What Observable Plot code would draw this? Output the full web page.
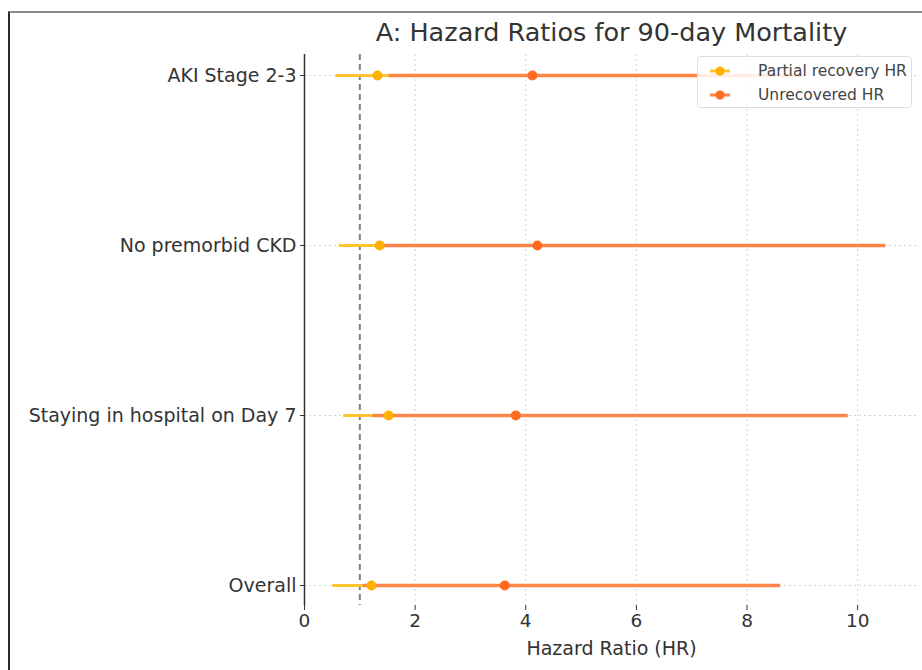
<!DOCTYPE html>
<html>
<head>
<meta charset="utf-8">
<script src="https://cdn.jsdelivr.net/npm/d3@7"></script>
<script src="https://cdn.jsdelivr.net/npm/@observablehq/plot@0.6"></script>
<style>
  html, body { margin: 0; padding: 0; background: #fff; }
  #wrap { position: relative; width: 922px; height: 670px; overflow: hidden; font-family: "DejaVu Sans", sans-serif; }
  #frame { position: absolute; left: 8px; top: 11px; right: -5px; bottom: -5px; border-top: 2px solid #8a8a8a; border-left: 2px solid #2a2a2a; pointer-events: none; }
  #legend { position: absolute; left: 697px; top: 56px; width: 215px; height: 52px; box-sizing: border-box; border: 1px solid #dedede; border-radius: 4px; background: rgba(255,255,255,0.85); font-size: 15.5px; color: #444; }
  .row { position: absolute; left: 0; height: 22px; display: flex; align-items: center; white-space: nowrap; }
  .row svg { margin-left: 12px; margin-right: 28px; }
</style>
</head>
<body>
<div id="wrap">
  <div id="chart"></div>
  <div id="frame"></div>
  <div id="legend"></div>
</div>
<script>
const categories = ["AKI Stage 2-3", "No premorbid CKD", "Staying in hospital on Day 7", "Overall"];
const partialHR   = [1.32, 1.36, 1.52, 1.21];
const partialLow  = [0.56, 0.62, 0.70, 0.50];
const partialHigh = [2.6, 2.8, 3.0, 2.5];
const unrecHR     = [4.12, 4.21, 3.82, 3.62];
const unrecLow    = [1.52, 1.28, 1.23, 1.05];
const unrecHigh   = [9.0, 10.5, 9.82, 8.6];
const xTicks = [0, 2, 4, 6, 8, 10];
const seriesNames = ["Partial recovery HR", "Unrecovered HR"];

const partialLineColor = "#FFC42E";
const partialDotColor = "#FFB000";
const unrecLineColor = "#FF8447";
const unrecDotColor = "#FF6A1F";

const partial = categories.map((c, i) => ({cat: c, hr: partialHR[i], lo: partialLow[i], hi: partialHigh[i]}));
const unrec = categories.map((c, i) => ({cat: c, hr: unrecHR[i], lo: unrecLow[i], hi: unrecHigh[i]}));

const font = "DejaVu Sans, sans-serif";

const chart = Plot.plot({
  width: 922,
  height: 670,
  marginLeft: 304,
  marginRight: 4,
  marginTop: 54,
  marginBottom: 65,
  style: {fontFamily: font, fontSize: "19px", color: "#333", background: "transparent", overflow: "visible"},
  x: {domain: [0, 11.1], ticks: xTicks, label: null},
  y: {type: "point", domain: categories, padding: 0.12, label: null},
  marks: [
    Plot.gridX(xTicks, {stroke: "#c8c8c8", strokeOpacity: 1, strokeDasharray: "2,3", strokeWidth: 0.8}),
    Plot.gridY(categories, {stroke: "#c8c8c8", strokeOpacity: 1, strokeDasharray: "2,3", strokeWidth: 0.8}),
    Plot.ruleX([1], {stroke: "#808080", strokeWidth: 2, strokeDasharray: "6,4"}),
    Plot.link(partial, {x1: "lo", x2: "hi", y1: "cat", y2: "cat", stroke: partialLineColor, strokeWidth: 3}),
    Plot.link(unrec, {x1: "lo", x2: "hi", y1: "cat", y2: "cat", stroke: unrecLineColor, strokeWidth: 3.5}),
    Plot.dot(partial, {x: "hr", y: "cat", r: 5, fill: partialDotColor}),
    Plot.dot(unrec, {x: "hr", y: "cat", r: 5, fill: unrecDotColor}),
    Plot.axisX({ticks: xTicks, tickSize: 5, tickPadding: 3, stroke: "#333", fill: "#333", fontSize: 18.5, label: null}),
    Plot.axisY({tickSize: 4, tickPadding: 4, stroke: "#333", fill: "#333", fontSize: 19, label: null}),
    Plot.ruleY([0], {frameAnchor: "bottom", stroke: "#333", strokeWidth: 1.5}),
    Plot.ruleX([0], {stroke: "#333", strokeWidth: 1.5}),
    Plot.text(["A: Hazard Ratios for 90-day Mortality"], {frameAnchor: "top", lineAnchor: "middle", dy: -22, fontSize: 25.5, fill: "#333"}),
    Plot.text(["Hazard Ratio (HR)"], {frameAnchor: "bottom", lineAnchor: "middle", dy: 43, fontSize: 19, fill: "#333"})
  ]
});
document.getElementById("chart").appendChild(chart);

// legend
const legend = document.getElementById("legend");
const colors = [[partialLineColor, partialDotColor], [unrecLineColor, unrecDotColor]];
seriesNames.forEach((name, i) => {
  const row = document.createElement("div");
  row.className = "row";
  row.style.top = (3 + i * 24) + "px";
  row.innerHTML = `<svg width="20" height="12"><line x1="0" x2="20" y1="6" y2="6" stroke="${colors[i][0]}" stroke-width="3"/><circle cx="10" cy="6" r="4.5" fill="${colors[i][1]}"/></svg><span>${name}</span>`;
  legend.appendChild(row);
});
</script>
</body>
</html>
